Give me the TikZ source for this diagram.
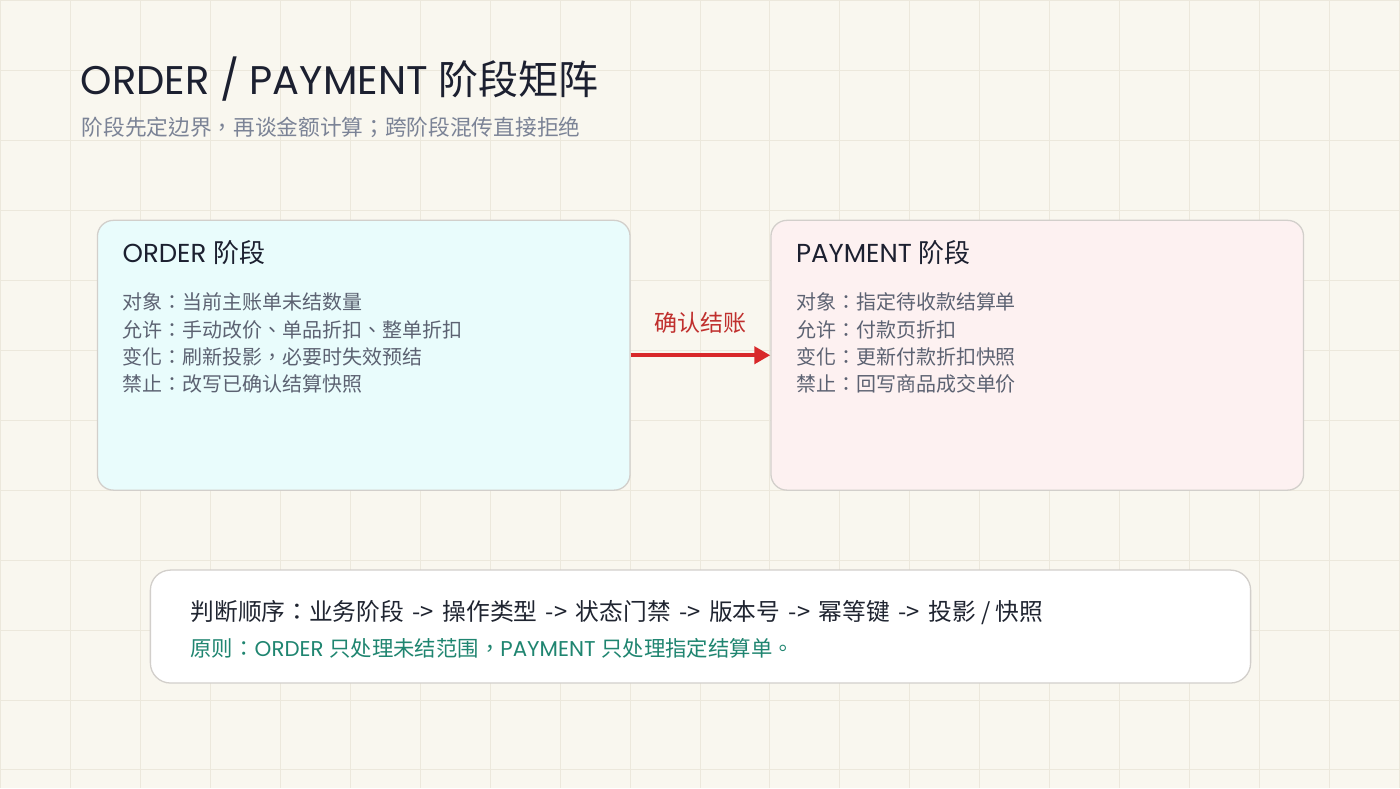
\documentclass[tikz,border=0pt]{standalone}
\usepackage{fontspec}
\setmainfont{Noto Sans CJK TC}
\newfontfamily\latfont{Poppins}
\usetikzlibrary{arrows.meta,positioning}

\definecolor{paper}{HTML}{F9F7EF}
\definecolor{gridink}{HTML}{ECE8DC}
\definecolor{titleink}{HTML}{1C2030}
\definecolor{subink}{HTML}{7B8396}
\definecolor{bodyink}{HTML}{5C6272}
\definecolor{boxline}{HTML}{D2CFCB}
\definecolor{orderfill}{HTML}{E9FCFC}
\definecolor{payfill}{HTML}{FDF1F1}
\definecolor{flowred}{HTML}{D8282A}
\definecolor{labelred}{HTML}{C0302E}
\definecolor{ruleink}{HTML}{1F2430}
\definecolor{rulegreen}{HTML}{1F8570}

\newcommand\thenarrow{\hspace{8.5pt}->\hspace{8.5pt}}

\tikzset{
  gridline/.style={draw=gridink, line width=1pt},
  phasebox/.style={draw=boxline, line width=1.3pt, rounded corners=16pt,
    minimum width=533pt, minimum height=270pt, inner sep=0pt},
  notebox/.style={draw=boxline, fill=white, line width=1.3pt, rounded corners=20pt,
    minimum width=1101pt, minimum height=113pt, inner sep=0pt},
  phasehead/.style={anchor=base west, inner sep=0pt, text=titleink,
    font=\fontsize{26}{30}\selectfont},
  phaseline/.style={anchor=base west, inner sep=0pt, text=bodyink,
    font=\fontsize{20}{24}\selectfont},
  flow/.style={draw=flowred, line width=4pt, -{Triangle[length=16pt,width=17pt]}},
}

\begin{document}
\begin{tikzpicture}[x=1pt,y=-1pt]
  \fill[paper] (0,0) rectangle (1400,788);
  \foreach \gx in {0,70,...,1400} \draw[gridline] (\gx,0) -- (\gx,788);
  \foreach \gy in {0,70,...,770} \draw[gridline] (0,\gy) -- (1400,\gy);
  \useasboundingbox (0,0) rectangle (1400,788);

  % heading
  \node[anchor=base west, inner sep=0pt, text=titleink, font=\fontsize{40}{48}\selectfont]
    (title) at (80,94) {{\latfont ORDER / PAYMENT }阶段矩阵};
  \node[anchor=base west, inner sep=0pt, text=subink, font=\fontsize{21.7}{26}\selectfont]
    (subtitle) at (81,135) {阶段先定边界，再谈金额计算；跨阶段混传直接拒绝};

  % the two phases
  \node[phasebox, fill=orderfill] (order) at (363.5,355) {};
  \node[phasebox, fill=payfill] (pay) at (1037.5,355) {};

  \node[phasehead] (orderhead) at (122,262) {{\latfont ORDER }阶段};
  \node[phasehead] (payhead) at (796,262) {{\latfont PAYMENT }阶段};

  \foreach \txt [count=\i] in {对象：当前主账单未结数量, 允许：手动改价、单品折扣、整单折扣,
      变化：刷新投影，必要时失效预结, 禁止：改写已确认结算快照}
    \node[phaseline] (orderline\i) at (122,{282.3+27.3*\i}) {\txt};
  \foreach \txt [count=\i] in {对象：指定待收款结算单, 允许：付款页折扣,
      变化：更新付款折扣快照, 禁止：回写商品成交单价}
    \node[phaseline] (payline\i) at (796,{282.3+27.3*\i}) {\txt};

  \draw[flow] (order.east) -- (pay.west);
  \node[text=labelred, font=\fontsize{23}{28}\selectfont] (checkout) at (700.5,323) {确认结账};

  % rule of thumb
  \node[notebox] (rule) at (700.5,626.5) {};
  \node[anchor=base west, inner sep=0pt, text=ruleink, font=\fontsize{23.75}{28}\selectfont]
    (order seq) at (190,620) {判断顺序：业务阶段\thenarrow 操作类型\thenarrow 状态门禁\thenarrow 版本号\thenarrow 幂等键\thenarrow 投影 / 快照};
  \node[anchor=base west, inner sep=0pt, text=rulegreen, font=\fontsize{21.4}{25}\selectfont]
    (principle) at (190,656) {原则：{\latfont ORDER }只处理未结范围，{\latfont PAYMENT }只处理指定结算单。};
\end{tikzpicture}
\end{document}
